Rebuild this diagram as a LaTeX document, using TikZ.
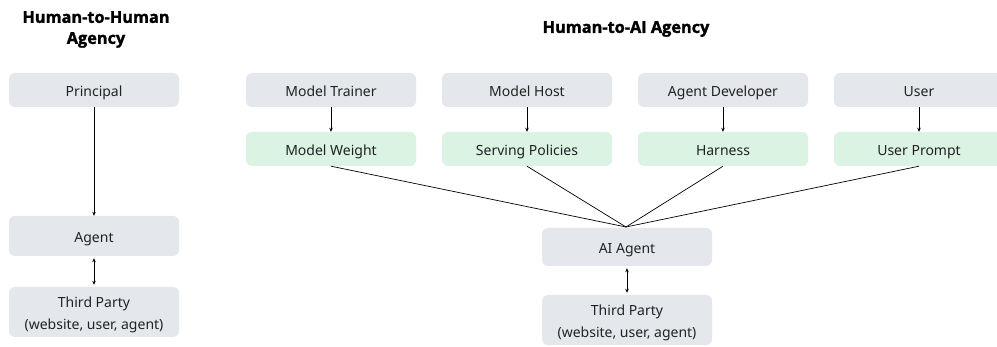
\documentclass[tikz,border=0pt]{standalone}
\usepackage{fontspec}
\setmainfont{Noto Sans}
\newfontfamily\titlefont{Open Sans}[BoldFeatures={FakeBold=1.5}]
\usetikzlibrary{arrows.meta}
\definecolor{boxgray}{HTML}{E4E7EC}
\definecolor{boxgreen}{HTML}{DAF3E2}
\definecolor{txt}{HTML}{222222}
\tikzset{
  gbox/.style={fill=boxgray, draw=none, rounded corners=6pt, minimum width=170pt, inner sep=0pt, align=center, text=txt, font=\fontsize{14}{22}\selectfont, text height=13pt, text depth=0pt},
  mbox/.style={gbox, text height=36pt, text depth=0pt},
  grbox/.style={gbox, fill=boxgreen},
  ttl/.style={font=\titlefont\bfseries\fontsize{16.3}{21}\selectfont, align=center, text=black},
  arr/.style={draw=black, line width=0.7pt, -{Stealth[length=4pt,width=3.5pt]}},
  darr/.style={draw=black, line width=0.7pt, {Stealth[length=4pt,width=3.5pt]}-{Stealth[length=4pt,width=3.5pt]}},
  fan/.style={draw=black, line width=0.7pt}
}
\begin{document}
\begin{tikzpicture}[x=1pt,y=-1pt]
\useasboundingbox (0,0) rectangle (997,347);
\clip (0,0) rectangle (997,347);
% titles
\node[ttl] (t1) at (96,29.5) {Human-to-Human\\Agency};
\node[ttl] (t2) at (626,29) {Human-to-AI Agency};
% left column
\node[gbox, minimum height=34pt] (prin) at (94,90) {Principal};
\node[gbox, minimum height=40pt] (agent) at (94,236) {Agent};
\node[mbox, minimum height=50pt] (tp1) at (94,312) {Third Party\\(website, user, agent)};
\draw[arr] (prin.south) -- (agent.north);
\draw[darr] ([yshift=-2pt]agent.south) -- ([yshift=2pt]tp1.north);
% top row
\node[gbox, minimum height=34pt] (trainer) at (331,90) {Model Trainer};
\node[gbox, minimum height=34pt] (host) at (527,90) {Model Host};
\node[gbox, minimum height=34pt] (dev) at (723,90) {Agent Developer};
\node[gbox, minimum height=34pt] (user) at (919,90) {User};
% green row
\node[grbox, minimum height=34pt] (weight) at (331,149) {Model Weight};
\node[grbox, minimum height=34pt] (serving) at (527,149) {Serving Policies};
\node[grbox, minimum height=34pt] (harness) at (723,149) {Harness};
\node[grbox, minimum height=34pt] (prompt) at (919,149) {User Prompt};
\draw[arr] (trainer.south) -- (weight.north);
\draw[arr] (host.south) -- (serving.north);
\draw[arr] (dev.south) -- (harness.north);
\draw[arr] (user.south) -- (prompt.north);
% AI agent
\node[gbox, minimum height=38pt] (ai) at (627,247) {AI Agent};
\node[mbox, minimum height=50pt] (tp2) at (627,320) {Third Party\\(website, user, agent)};
\coordinate (hub) at (626,227);
\draw[fan] (weight.south) -- (hub);
\draw[fan] (serving.south) -- (hub);
\draw[fan] (harness.south) -- (hub);
\draw[fan] (prompt.south) -- (hub);
\draw[darr] ([yshift=-2pt]ai.south) -- ([yshift=2pt]tp2.north);
\end{tikzpicture}
\end{document}
